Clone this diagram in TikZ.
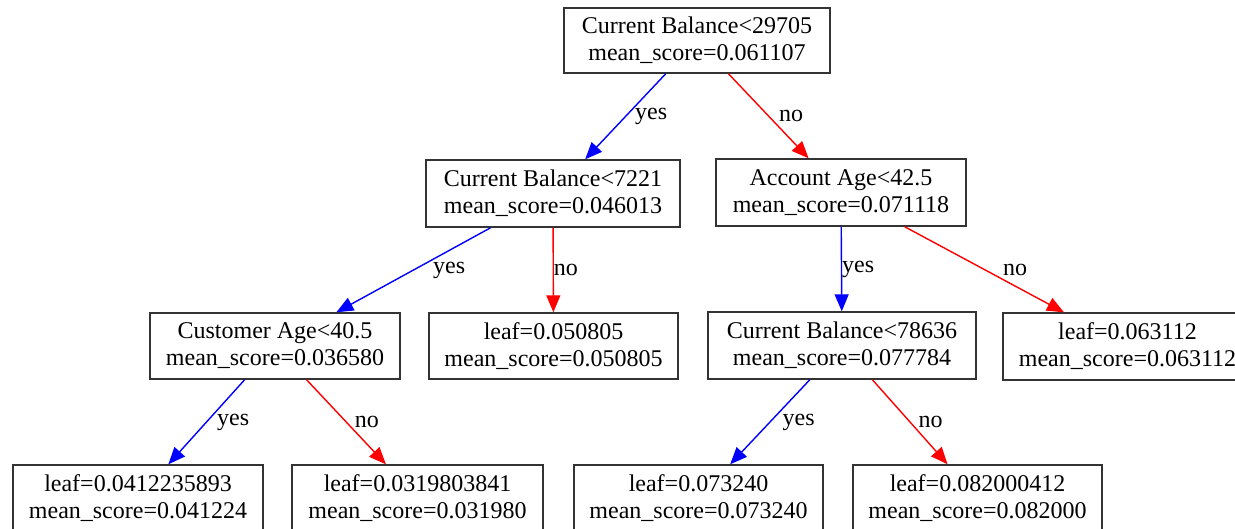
\documentclass[tikz,border=0pt]{standalone}
\usepackage{fontspec}
\setmainfont{Liberation Serif}
\usetikzlibrary{arrows.meta}
\begin{document}
\begin{tikzpicture}[x=1pt,y=-1pt,
  box/.style={draw=black!80, line width=1.4pt, fill=white,
    font=\fontsize{24}{27}\selectfont, align=center,
    minimum height=66pt, inner sep=0pt},
  yesedge/.style={draw=blue, line width=1.4pt, -{Triangle[length=17pt,width=14pt]}},
  noedge/.style={draw=red, line width=1.4pt, -{Triangle[length=17pt,width=14pt]}},
  lbl/.style={font=\fontsize{24}{27}\selectfont, inner sep=0pt, anchor=west, pos=0.5, text=black}
]
\clip (0,0) rectangle (1235,529);
\fill[white] (0,0) rectangle (1235,529);

% split nodes
\node[box, minimum width=266pt, minimum height=65pt] (root) at (697,40.5)
  {Current Balance<29705\\mean\_score=0.061107};
\node[box, minimum width=254pt, minimum height=67pt] (cbA) at (553,193.5)
  {Current Balance<7221\\mean\_score=0.046013};
\node[box, minimum width=250pt, minimum height=67pt] (acc) at (841,192.5)
  {Account Age<42.5\\mean\_score=0.071118};
\node[box, minimum width=250pt] (cust) at (275,346)
  {Customer Age<40.5\\mean\_score=0.036580};
\node[box, minimum width=249pt] (leafA) at (553.5,346)
  {leaf=0.050805\\mean\_score=0.050805};
\node[box, minimum width=268pt, minimum height=67pt] (cbB) at (842,345.5)
  {Current Balance<78636\\mean\_score=0.077784};
\node[box, minimum width=249pt, minimum height=67pt] (leafB) at (1127.5,346.5)
  {leaf=0.063112\\mean\_score=0.063112};

% bottom leaves
\node[box, minimum width=250pt] (leafC) at (138,498)
  {leaf=0.0412235893\\mean\_score=0.041224};
\node[box, minimum width=251pt] (leafD) at (417.5,498)
  {leaf=0.0319803841\\mean\_score=0.031980};
\node[box, minimum width=249pt] (leafE) at (698.5,498)
  {leaf=0.073240\\mean\_score=0.073240};
\node[box, minimum width=249pt] (leafF) at (977.5,498)
  {leaf=0.082000412\\mean\_score=0.082000};

% branches
\draw[yesedge] (root) -- node[lbl, xshift=9pt] {yes} (cbA);
\draw[noedge]  (root) -- node[lbl, xshift=10pt] {no} (acc);
\draw[yesedge] (cbA) -- node[lbl, xshift=19pt] {yes} (cust);
\draw[noedge]  (cbA) -- node[lbl, xshift=0pt] {no} (leafA);
\draw[yesedge] (acc) -- node[lbl, xshift=0pt] {yes} (cbB);
\draw[noedge]  (acc) -- node[lbl, xshift=18pt] {no} (leafB);
\draw[yesedge] (cust) -- node[lbl, xshift=10pt] {yes} (leafC);
\draw[noedge]  (cust) -- node[lbl, xshift=8pt] {no} (leafD);
\draw[yesedge] (cbB) -- node[lbl, xshift=12pt] {yes} (leafE);
\draw[noedge]  (cbB) -- node[lbl, xshift=8pt] {no} (leafF);
\end{tikzpicture}
\end{document}
